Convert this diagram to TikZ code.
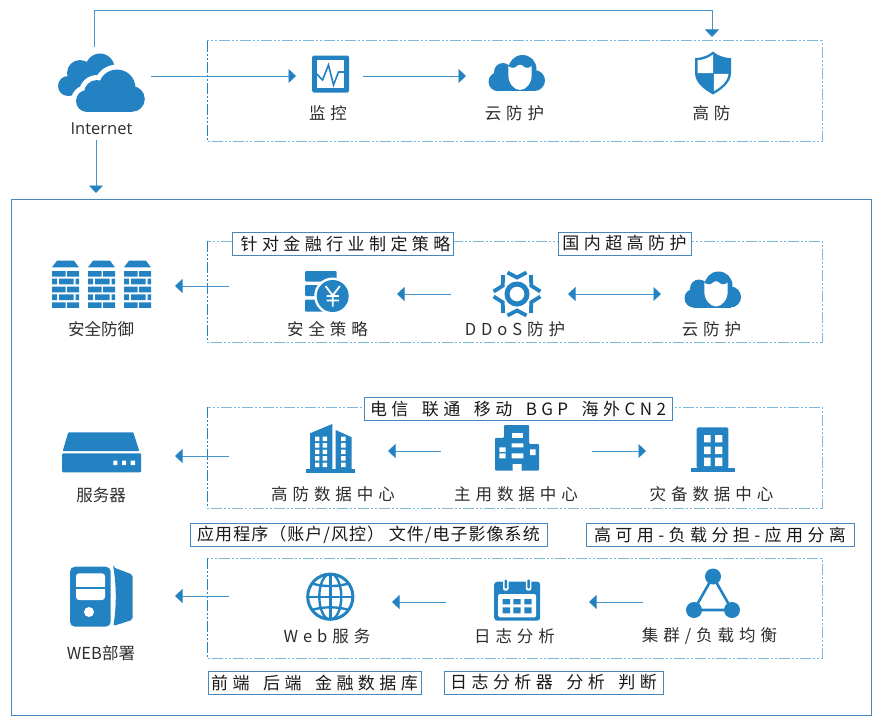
\documentclass[tikz,border=0pt]{standalone}
\usepackage{fontspec}
\usepackage{tikz}
\usetikzlibrary{arrows.meta}
\setmainfont{Open Sans}
\newfontfamily\cjkplain{Noto Sans CJK SC}
\newfontfamily\cjkwide[LetterSpace=30]{Noto Sans CJK SC}
\newfontfamily\cjktag[LetterSpace=26]{Noto Sans CJK SC}
\newfontfamily\cjkmid[LetterSpace=6]{Noto Sans CJK SC}
\newcommand{\tagsep}{\hspace{13.5pt}}
\definecolor{icon}{RGB}{35, 130, 193}
\definecolor{flow}{RGB}{70, 150, 205}
\definecolor{dots}{RGB}{125, 185, 222}
\definecolor{frame}{RGB}{70, 135, 190}
\definecolor{ink}{RGB}{45, 45, 45}
\tikzset{
	% caixas invisiveis que seguram as setas
	hub/.style={inner sep=0pt, outer sep=0pt, minimum height=20pt},
	flowline/.style={draw=flow, line width=.9pt, -{Triangle[length=7.5pt,width=14pt,color=icon]}},
	flowboth/.style={draw=flow, line width=.9pt, {Triangle[length=7.5pt,width=14pt,color=icon]}-{Triangle[length=7.5pt,width=14pt,color=icon]}},
	zone/.style={draw=dots, line width=1pt, dash pattern=on 11pt off 2pt on 2pt off 2pt on 2pt off 2pt},
	tag/.style={draw=frame, fill=white, line width=1pt, inner sep=0pt, text=black!90, minimum height=23pt, font=\fontsize{17}{19}\selectfont\cjktag},
	lab/.style={inner sep=0pt, text=ink, font=\fontsize{16.5}{18}\selectfont\cjkwide},
	labplain/.style={inner sep=0pt, text=ink, font=\fontsize{16.5}{18}\selectfont\cjkplain},
	% icones
	pics/netcloud/.style={code={
		\fill[icon] (-1,-15) circle[radius=14.5];
		\fill[icon] (-21,-10) circle[radius=13];
		\fill[icon] (-33,3) circle[radius=10];
		\fill[icon] (-33,13) -- (-28,12) -- (-1,-15) -- (-21,-20) -- cycle;
		\fill[white] (-14,18) circle[radius=16];
		\fill[white] (-4,10) circle[radius=18];
		\fill[white] (16,5) circle[radius=23.5];
		\fill[white] (31,16) circle[radius=17];
		\fill[white] (-29,20) rectangle (48,40);
		\fill[icon] (-14,18) circle[radius=11];
		\fill[icon] (-4,10) circle[radius=13];
		\fill[icon] (16,5) circle[radius=18.5];
		\fill[icon] (31,16) circle[radius=12.8];
		\fill[icon] (-14,12) rectangle (31,28.8);
	}},
	pics/monitor/.style={code={
		\fill[icon, rounded corners=1.5pt] (-18.5,-18.5) rectangle (18.5,18.5);
		\fill[white] (-13.8,-13.8) rectangle (13.8,14);
		\draw[icon, line width=1.6pt] (-13.8,0) -- (-8,6) -- (-2,-9) -- (3,11) -- (8,-2) -- (13.8,-2);
	}},
	pics/shieldcloud/.style={code={
		\fill[icon] (5.5,-4) circle[radius=14];
		\fill[icon] (-14,-1) circle[radius=9];
		\fill[icon] (-19,8.7) circle[radius=9.5];
		\fill[icon] (17.5,7.5) circle[radius=10.5];
		\fill[icon] (-19,2) rectangle (17.5,18);
		\fill[white] (-8.7,-7) .. controls (-6,-4.5) and (-2,-4.5) .. (0,-7) .. controls (1,-8.5) and (5,-8.5) .. (6,-7) .. controls (8,-4.5) and (12,-4.5) .. (14.7,-7) -- (14.7,2) .. controls (14.7,10) and (9,17) .. (3,17) .. controls (-3,17) and (-8.7,10) .. (-8.7,2) -- cycle;
	}},
	pics/shield/.style={code={
		\fill[icon] (-18,-15) .. controls (-10,-15) and (-4,-18) .. (0,-21.5) .. controls (4,-18) and (10,-15) .. (18,-15) -- (18,0) .. controls (18,10) and (8,17) .. (0,21.5) .. controls (-8,17) and (-18,10) .. (-18,0) -- cycle;
		\begin{scope}
			\clip (-15.5,-12.8) .. controls (-9,-13) and (-4,-15.5) .. (0,-18.5) .. controls (4,-15.5) and (9,-13) .. (15.5,-12.8) -- (15.5,0) .. controls (15.5,8) and (7,15) .. (0,18.5) .. controls (-7,15) and (-15.5,8) .. (-15.5,0) -- cycle;
			\fill[white] (-16,-20) rectangle (0,0) (.8,.8) rectangle (16,20);
		\end{scope}
	}},
	pics/tower/.style={code={
		\fill[icon] (-13.5,-17.3) -- (-8.5,-24) -- (8.5,-24) -- (13.5,-17.3) -- cycle;
		\foreach \y in {-13.7,2,17.6} {
			\fill[icon] (-13.5,\y) rectangle (0,\y+5.6) (1.5,\y) rectangle (13.5,\y+5.6);
		}
		\foreach \y in {-6,9.7} {
			\fill[icon] (-13.5,\y) rectangle (-8.5,\y+5.6) (-6.5,\y) rectangle (8,\y+5.6) (10,\y) rectangle (13.5,\y+5.6);
		}
	}},
	pics/policy/.style={code={
		\fill[icon, rounded corners=1pt] (-22,-20.5) rectangle (9.7,-10) (-22,-6.5) rectangle (9.7,4.5) (-22,8) rectangle (9.7,20.2);
		\fill[white] (5.7,4.5) circle[radius=18.5];
		\fill[icon] (5.7,4.5) circle[radius=16];
		\draw[white, line width=1.8pt] (-1.5,-5.5) -- (5.7,4) -- (12.9,-5.5) (5.7,4) -- (5.7,15) (-.5,4.5) -- (11.9,4.5) (-.5,9) -- (11.9,9);
	}},
	pics/gear/.style={code={
		\draw[icon, line width=5pt] (0,0) circle[radius=10];
		\foreach \a in {0,60,...,300} {
			\draw[icon, line width=3.8pt, rotate=\a] (-9.5,-21.5) -- (0,-16.5) -- (9.5,-21.5);
		}
	}},
	pics/server/.style={code={
		\fill[icon, rounded corners=.8pt] (-39,-1.3) -- (-33.4,-20) -- (31.6,-20) -- (37.6,-1.3) -- cycle;
		\fill[icon, rounded corners=1pt] (-39.5,1) rectangle (39.3,20);
		\fill[white] (11.6,8.4) rectangle (15.6,12.7) (20.3,8.4) rectangle (24.3,12.7) (29,8.4) rectangle (33.3,12.7);
	}},
	pics/highrise/.style={code={
		\fill[icon] (-24.5,20.7) rectangle (24.5,24.4);
		\fill[icon] (-20.5,21) -- (-20.5,-15) -- (1.8,-24.3) -- (1.8,21) -- cycle;
		\fill[icon] (5.2,21) -- (5.2,-18.3) -- (21.2,-11) -- (21.2,21) -- cycle;
		\foreach \y in {-11.6,-5.1,1.4,7.9,14.4} {
			\fill[white] (-15.5,\y) rectangle +(4.3,4.3) (-7.8,\y) rectangle +(4.5,4.3) (10.5,\y) rectangle +(4.5,4.3);
		}
	}},
	pics/offices/.style={code={
		\fill[icon, rounded corners=1pt] (-13,-22.8) -- (12,-22.8) -- (12,-3.8) -- (22,-3.8) -- (22,22.9) -- (-22,22.9) -- (-22,-10) -- (-13,-10) -- cycle;
		\fill[white] (-5.3,-14.5) rectangle (6.3,-10.1);
		\fill[white] (-17.7,-0.5) rectangle (-11.3,4) (-5.3,-4.5) rectangle (6.3,-.5) (13,1.5) rectangle (18.7,7.2);
		\fill[white] (-17.7,5.5) rectangle (-11.3,10.5) (-5.3,5.5) rectangle (6.3,10.5) (-4.3,16.2) rectangle (4.7,23);
	}},
	pics/backup/.style={code={
		\fill[icon] (-22,18.2) rectangle (22,22.2);
		\fill[icon, rounded corners=1.5pt] (-16.3,19) -- (-16.3,-22.2) -- (15.3,-22.2) -- (15.3,19) -- cycle;
		\fill[white] (-9,-14.5) rectangle (-2.3,-7.2) (2,-14.5) rectangle (9.3,-7.2) (-9,-2.8) rectangle (-2.3,4.5) (2,-2.8) rectangle (9.3,4.5) (-9,8.2) rectangle (-2.3,16.5) (2,8.2) rectangle (9.3,16.5);
	}},
	pics/pc/.style={code={
		\fill[icon, rounded corners=5pt] (-31,-30) rectangle (9.7,30);
		\fill[white, rounded corners=3pt] (-25,-23.4) rectangle (4,3.3);
		\fill[icon] (-25,-10) rectangle (4,-7.4);
		\fill[white] (-12,15.3) circle[radius=5];
		\fill[icon, rounded corners=2pt] (12.3,-29.4) -- (31.7,-22) -- (31.7,23) -- (12.3,29.3) .. controls (15.5,10) and (15.5,-10) .. cycle;
	}},
	pics/globe/.style={code={
		\begin{scope}
			\clip (0,0) circle[radius=23];
			\draw[icon, line width=2.4pt] (0,0) ellipse[x radius=11, y radius=23];
			\draw[icon, line width=2.4pt] (0,-23) -- (0,23) (-23,0) -- (23,0);
			\draw[icon, line width=2.4pt] (-21,-14) .. controls (-8,-9.5) and (8,-9.5) .. (21,-14);
			\draw[icon, line width=2.4pt] (-21,14) .. controls (-8,9.5) and (8,9.5) .. (21,14);
		\end{scope}
		\draw[icon, line width=3pt] (0,0) circle[radius=22.6];
	}},
	pics/calendar/.style={code={
		\fill[icon, rounded corners=3pt] (-23,-17.8) rectangle (23,21.2);
		\fill[white, rounded corners=1.5pt] (-19,-5.5) rectangle (19,17.8);
		\foreach \x in {-11.4,11.4} {
			\fill[white, rounded corners=2pt] (\x-2.8,-21.5) rectangle (\x+2.8,-9);
			\fill[icon, rounded corners=1pt] (\x-1.2,-20) rectangle (\x+1.2,-11);
		}
		\foreach \x in {-14.5,-3.9,7.1} {
			\fill[icon] (\x,-.5) rectangle +(7.4,5.3) (\x,7.8) rectangle +(7.4,6);
		}
	}},
	pics/cluster/.style={code={
		\draw[icon, line width=2.6pt] (0,-16.5) -- (-19,17) -- (19,17) -- cycle;
		\fill[icon] (0,-16.5) circle[radius=8];
		\fill[icon] (-19,17) circle[radius=8];
		\fill[icon] (19,17) circle[radius=8];
	}},
}

\begin{document}
\begin{tikzpicture}[x=1pt, y=-1pt]
\useasboundingbox (0,0) rectangle (882,725);

%% molduras
\draw[frame, line width=1pt] (11,199) rectangle (871,715);
\foreach \top/\bot in {41/141, 241/342, 407/508, 558/658} {
	\draw[zone] (207,\top) rectangle (822,\bot);
	\draw[zone, draw=icon, line width=.8pt] (207,\top) -- (207,\bot);
}

%% caixas das setas
\node[hub, minimum width=110pt, minimum height=93pt] (internet) at (96,93.5) {};
\node[hub, minimum width=67pt] (jiankong) at (329.5,76) {};
\node[hub, minimum width=92pt] (yunfangA) at (512,76) {};
\node[hub, minimum width=40pt, minimum height=78pt] (gaofang) at (712,76) {};
\node[hub, minimum width=146pt] (anquan) at (102,286) {};
\node[hub, minimum width=168pt] (celue) at (313,294) {};
\node[hub, minimum width=117pt] (ddos) at (509.5,294) {};
\node[hub, minimum width=102pt] (yunfangB) at (712,294) {};
\node[hub, minimum width=146pt] (fuwuqi) at (102,456) {};
\node[hub, minimum width=159pt] (gaofangzx) at (308.5,451) {};
\node[hub, minimum width=151pt] (zhuyong) at (516.5,451) {};
\node[hub, minimum width=132pt] (zaibei) at (712,451) {};
\node[hub, minimum width=146pt] (webbushu) at (102,596) {};
\node[hub, minimum width=163pt] (webfuwu) at (310.5,602) {};
\node[hub, minimum width=143pt] (rizhi) at (517.5,602) {};
\node[hub, minimum width=138pt] (jiqun) at (712,602) {};
\coordinate (turn) at (712,10);
\coordinate (shell) at (96,193);

%% setas
\draw[flowline] (internet.east |- jiankong) -- (jiankong.west);
\draw[flowline] (jiankong.east) -- (yunfangA.west);
\draw[flowline] ([xshift=-2pt]internet.north) |- (turn) -- (gaofang.north);
\draw[flowline] (internet.south) -- (shell);
\draw[flowline] (celue.west |- anquan) -- (anquan.east);
\draw[flowline] (ddos.west) -- (celue.east);
\draw[flowboth] (ddos.east) -- (yunfangB.west);
\draw[flowline] (gaofangzx.west |- fuwuqi) -- (fuwuqi.east);
\draw[flowline] (zhuyong.west) -- (gaofangzx.east);
\draw[flowline] (zhuyong.east) -- (zaibei.west);
\draw[flowline] (webfuwu.west |- webbushu) -- (webbushu.east);
\draw[flowline] (rizhi.west) -- (webfuwu.east);
\draw[flowline] (jiqun.west) -- (rizhi.east);

%% icones
\pic at (101,83) {netcloud};
\pic at (330.5,74) {monitor};
\pic at (517,73) {shieldcloud};
\pic at (713,73) {shield};
\foreach \x in {65.5,101.5,137.5} {
	\pic at (\x,284.7) {tower};
}
\pic at (327,291.5) {policy};
\pic at (517,294) {gear};
\pic at (713,289.5) {shieldcloud};
\pic at (101.7,452.3) {server};
\pic at (330.5,448.3) {highrise};
\pic at (517,447.8) {offices};
\pic at (713,449.5) {backup};
\pic at (101,596.7) {pc};
\pic at (330.3,596.7) {globe};
\pic at (517.2,599.5) {calendar};
\pic at (713,593) {cluster};

%% rotulos
\node[inner sep=0pt, text=ink, font=\fontsize{16.5}{18}\selectfont] (tinternet) at (101.5,129) {Internet};
\node[lab] (tjiankong) at (328,113) {监控};
\node[lab] (tyunfangA) at (514.5,113) {云防护};
\node[lab] (tgaofang) at (711.5,113) {高防};
\node[labplain] (tanquan) at (101,329) {安全防御};
\node[lab] (tcelue) at (327.5,329) {安全策略};
\node[lab] (tddos) at (515,329) {DDoS防护};
\node[lab] (tyunfangB) at (711.5,329) {云防护};
\node[labplain] (tfuwuqi) at (101,495) {服务器};
\node[lab] (tgaofangzx) at (333,494) {高防数据中心};
\node[lab] (tzhuyong) at (516,494) {主用数据中心};
\node[lab] (tzaibei) at (711.5,494) {灾备数据中心};
\node[labplain] (twebbushu) at (101,653) {WEB部署};
\node[lab] (twebfuwu) at (327,636) {Web服务};
\node[lab] (trizhi) at (514.5,636) {日志分析};
\node[lab] (tjiqun) at (709.5,636) {集群/负载均衡};

%% etiquetas
\node[tag, minimum width=221pt] (tagjinrong) at (343,243.5) {\hspace*{5pt}针对金融行业制定策略};
\node[tag, minimum width=133pt] (tagguonei) at (624.5,243.5) {国内超高防护};
\node[tag, minimum width=308pt] (tagxianlu) at (518,409) {电信\tagsep 联通\tagsep 移动\tagsep BGP\tagsep 海外CN2};
\node[tag, minimum width=357pt, font=\fontsize{17}{19}\selectfont\cjkmid] (tagyingyong) at (368.5,535) {应用程序（账户/风控） 文件/电子影像系统};
\node[tag, minimum width=268pt] (taggaokeyong) at (720,535) {高可用-负载分担-应用分离};
\node[tag, minimum width=213pt] (tagqianduan) at (314.5,682.5) {前端\tagsep 后端\tagsep 金融数据库};
\node[tag, minimum width=219pt] (tagrizhi) at (553.5,682.5) {日志分析器\tagsep 分析\tagsep 判断};
\end{tikzpicture}
\end{document}
